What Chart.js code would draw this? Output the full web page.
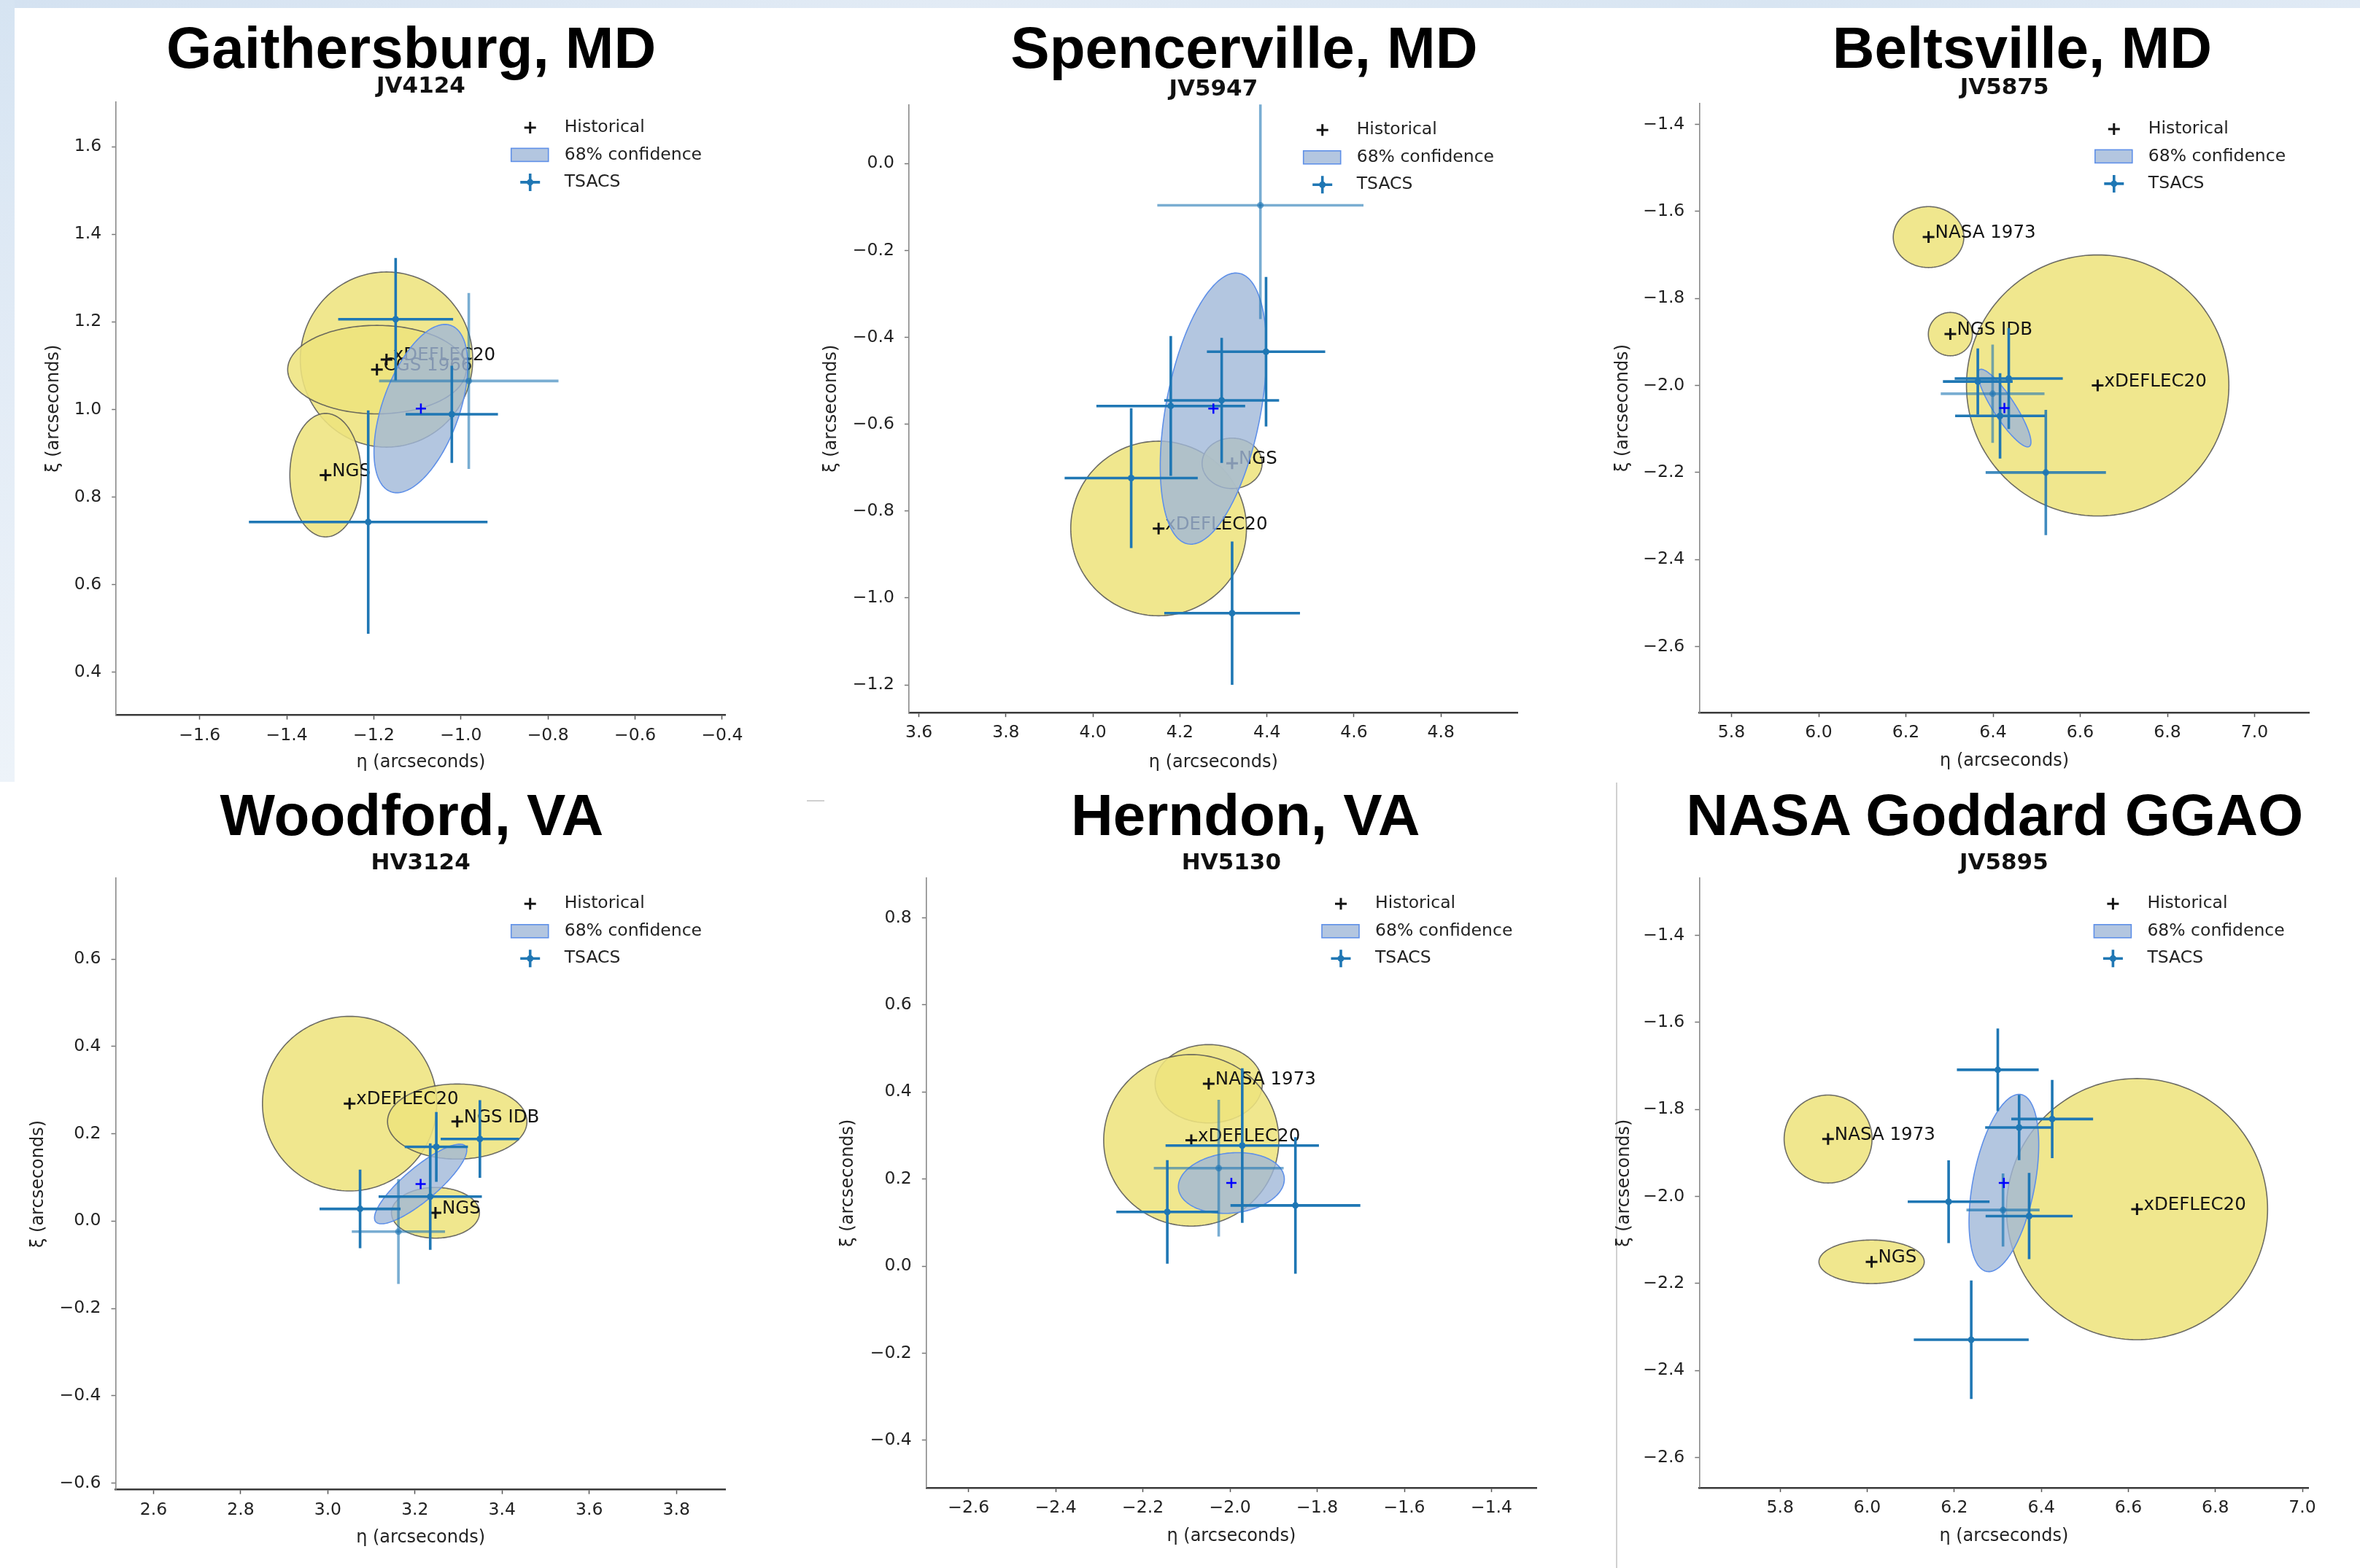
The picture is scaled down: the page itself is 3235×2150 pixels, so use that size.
<!DOCTYPE html>
<html>
<head>
<meta charset="utf-8">
<script src="https://cdn.jsdelivr.net/npm/chart.js@4.4.1/dist/chart.umd.min.js"></script>
<style>
html,body{margin:0;padding:0;background:#ffffff;}
body{width:3235px;height:2150px;position:relative;overflow:hidden;}
canvas{position:absolute;}
.ttl{position:absolute;transform:translateX(-50%);font-family:'Liberation Sans',Arial,sans-serif;font-weight:bold;font-size:80px;line-height:80px;white-space:nowrap;color:#000;z-index:5;}
.deco{position:absolute;}
</style>
</head>
<body>
<div class="deco" style="left:0;top:0;width:3235px;height:11px;background:linear-gradient(90deg,#d4e2f1,#e2ebf5 40%,#d8e5f2 75%,#e0eaf5);"></div>
<div class="deco" style="left:0;top:0;width:20px;height:1072px;background:linear-gradient(180deg,#d6e4f2,#e3ecf6 50%,#edf3f9);"></div>
<div class="deco" style="left:2215px;top:1073px;width:2px;height:1077px;background:#d0d0d0;"></div>
<div class="deco" style="left:1106px;top:1097px;width:24px;height:2px;background:#d0d0d0;"></div>
<script>
// ---------------- DATA ----------------
const HALF_SPAN = 0.7; // arcseconds shown each side of the TSACS mean

// Panel 1 - Gaithersburg, MD
const p1Title = 'Gaithersburg, MD';
const p1Station = 'JV4124';
const p1HistNames = ['xDEFLEC20', 'CGS 1966', 'NGS'];
const p1HistEta = [-1.171, -1.193, -1.311];
const p1HistXi = [1.114, 1.091, 0.850];
const p1HistSigEta = [0.198, 0.205, 0.082];
const p1HistSigXi = [0.200, 0.101, 0.141];
const p1TsacsEta = [-1.150, -0.982, -1.021, -1.213];
const p1TsacsXi = [1.206, 1.065, 0.989, 0.743];
const p1TsacsEtaErr = [0.132, 0.206, 0.106, 0.274];
const p1TsacsXiErr = [0.140, 0.201, 0.111, 0.255];
const p1TsacsWeight = [1, 0.6, 1, 1];
const p1Mean = [-1.092, 1.002];
const p1Conf = [0.202, 0.088, 70];
const p1EtaTicks = [-1.6, -1.4, -1.2, -1.0, -0.8, -0.6, -0.4];
const p1XiTicks = [0.4, 0.6, 0.8, 1.0, 1.2, 1.4, 1.6];

// Panel 2 - Spencerville, MD
const p2Title = 'Spencerville, MD';
const p2Station = 'JV5947';
const p2HistNames = ['xDEFLEC20', 'NGS'];
const p2HistEta = [4.151, 4.320];
const p2HistXi = [-0.840, -0.690];
const p2HistSigEta = [0.202, 0.069];
const p2HistSigXi = [0.201, 0.058];
const p2TsacsEta = [4.385, 4.398, 4.296, 4.179, 4.088, 4.320];
const p2TsacsXi = [-0.096, -0.433, -0.545, -0.558, -0.724, -1.035];
const p2TsacsEtaErr = [0.237, 0.136, 0.132, 0.171, 0.153, 0.156];
const p2TsacsXiErr = [0.262, 0.172, 0.144, 0.161, 0.161, 0.165];
const p2TsacsWeight = [0.6, 1, 1, 1, 1, 1];
const p2Mean = [4.277, -0.564];
const p2Conf = [0.317, 0.109, 79.3];
const p2EtaTicks = [3.6, 3.8, 4.0, 4.2, 4.4, 4.6, 4.8];
const p2XiTicks = [-1.2, -1.0, -0.8, -0.6, -0.4, -0.2, 0.0];

// Panel 3 - Beltsville, MD
const p3Title = 'Beltsville, MD';
const p3Station = 'JV5875';
const p3HistNames = ['NASA 1973', 'NGS IDB', 'xDEFLEC20'];
const p3HistEta = [6.252, 6.302, 6.640];
const p3HistXi = [-1.659, -1.882, -2.000];
const p3HistSigEta = [0.081, 0.0505, 0.301];
const p3HistSigXi = [0.070, 0.0498, 0.300];
const p3TsacsEta = [6.365, 6.436, 6.399, 6.416, 6.521];
const p3TsacsXi = [-1.991, -1.984, -2.019, -2.070, -2.200];
const p3TsacsEtaErr = [0.080, 0.124, 0.119, 0.103, 0.138];
const p3TsacsXiErr = [0.076, 0.116, 0.113, 0.098, 0.144];
const p3TsacsWeight = [1, 1, 0.6, 1, 0.85];
const p3Mean = [6.426, -2.052];
const p3Conf = [0.105, 0.025, -57];
const p3EtaTicks = [5.8, 6.0, 6.2, 6.4, 6.6, 6.8, 7.0];
const p3XiTicks = [-2.6, -2.4, -2.2, -2.0, -1.8, -1.6, -1.4];

// Panel 4 - Woodford, VA
const p4Title = 'Woodford, VA';
const p4Station = 'HV3124';
const p4HistNames = ['xDEFLEC20', 'NGS IDB', 'NGS'];
const p4HistEta = [3.050, 3.297, 3.247];
const p4HistXi = [0.269, 0.228, 0.019];
const p4HistSigEta = [0.200, 0.160, 0.101];
const p4HistSigXi = [0.200, 0.086, 0.058];
const p4TsacsEta = [3.074, 3.162, 3.235, 3.249, 3.349];
const p4TsacsXi = [0.028, -0.024, 0.056, 0.170, 0.188];
const p4TsacsEtaErr = [0.093, 0.107, 0.1185, 0.0725, 0.090];
const p4TsacsXiErr = [0.090, 0.120, 0.122, 0.080, 0.089];
const p4TsacsWeight = [1, 0.6, 1, 1, 1];
const p4Mean = [3.213, 0.085];
const p4Conf = [0.1345, 0.038, 40];
const p4EtaTicks = [2.6, 2.8, 3.0, 3.2, 3.4, 3.6, 3.8];
const p4XiTicks = [-0.6, -0.4, -0.2, 0.0, 0.2, 0.4, 0.6];

// Panel 5 - Herndon, VA
const p5Title = 'Herndon, VA';
const p5Station = 'HV5130';
const p5HistNames = ['NASA 1973', 'xDEFLEC20'];
const p5HistEta = [-2.049, -2.089];
const p5HistXi = [0.419, 0.289];
const p5HistSigEta = [0.123, 0.201];
const p5HistSigXi = [0.090, 0.197];
const p5TsacsEta = [-2.144, -2.026, -1.972, -1.850];
const p5TsacsXi = [0.1245, 0.225, 0.277, 0.1395];
const p5TsacsEtaErr = [0.117, 0.149, 0.176, 0.149];
const p5TsacsXiErr = [0.119, 0.157, 0.1775, 0.157];
const p5TsacsWeight = [1, 0.6, 1, 1];
const p5Mean = [-1.997, 0.191];
const p5Conf = [0.122, 0.069, 6];
const p5EtaTicks = [-2.6, -2.4, -2.2, -2.0, -1.8, -1.6, -1.4];
const p5XiTicks = [-0.4, -0.2, 0.0, 0.2, 0.4, 0.6, 0.8];

// Panel 6 - NASA Goddard GGAO
const p6Title = 'NASA Goddard GGAO';
const p6Station = 'JV5895';
const p6HistNames = ['NASA 1973', 'NGS', 'xDEFLEC20'];
const p6HistEta = [5.910, 6.010, 6.620];
const p6HistXi = [-1.868, -2.150, -2.029];
const p6HistSigEta = [0.101, 0.121, 0.300];
const p6HistSigXi = [0.101, 0.050, 0.300];
const p6TsacsEta = [6.300, 6.349, 6.425, 6.187, 6.312, 6.372, 6.239];
const p6TsacsXi = [-1.709, -1.8415, -1.822, -2.012, -2.031, -2.045, -2.329];
const p6TsacsEtaErr = [0.094, 0.078, 0.094, 0.094, 0.084, 0.100, 0.132];
const p6TsacsXiErr = [0.095, 0.075, 0.090, 0.095, 0.084, 0.099, 0.136];
const p6TsacsWeight = [1, 1, 1, 1, 0.7, 1, 1];
const p6Mean = [6.314, -1.969];
const p6Conf = [0.207, 0.071, 79];
const p6EtaTicks = [5.8, 6.0, 6.2, 6.4, 6.6, 6.8, 7.0];
const p6XiTicks = [-2.6, -2.4, -2.2, -2.0, -1.8, -1.6, -1.4];

// ---------------- LAYOUT (page pixels) ----------------
const BOXES = [
  {x0: 0,    y0: 0,    w: 1100, h: 1070, L: 159.2,  T: 139.9,  R: 994.7,  B: 980.6,  yTitleX: 73.7,   xTitleY: 1045.4, titleX: 563.7,  titleBase: 94},
  {x0: 1100, y0: 0,    w: 1060, h: 1070, L: 1245.9, T: 143.3,  R: 2080.7, B: 977.2,  yTitleX: 1140,   xTitleY: 1045.4, titleX: 1705.4, titleBase: 94},
  {x0: 2160, y0: 0,    w: 1075, h: 1070, L: 2329.3, T: 141.9,  R: 3165.8, B: 977.2,  yTitleX: 2225,   xTitleY: 1044,   titleX: 2771.9, titleBase: 94},
  {x0: 0,    y0: 1070, w: 1100, h: 1080, L: 158.5,  T: 1204.3, R: 994.7,  B: 2042.6, yTitleX: 52.6,   xTitleY: 2108.7, titleX: 564.4,  titleBase: 1146},
  {x0: 1100, y0: 1070, w: 1060, h: 1080, L: 1269.8, T: 1204.3, R: 2106,   B: 2039.9, yTitleX: 1163,   xTitleY: 2106.6, titleX: 1707.2, titleBase: 1146},
  {x0: 2160, y0: 1070, w: 1075, h: 1080, L: 2329.3, T: 1204.3, R: 3164.4, B: 2039.9, yTitleX: 2226.5, xTitleY: 2106.6, titleX: 2734.2, titleBase: 1146}
];

const PANELS = [
  {title: p1Title, station: p1Station, names: p1HistNames, hEta: p1HistEta, hXi: p1HistXi, hSEta: p1HistSigEta, hSXi: p1HistSigXi,
   tEta: p1TsacsEta, tXi: p1TsacsXi, tEtaErr: p1TsacsEtaErr, tXiErr: p1TsacsXiErr, tW: p1TsacsWeight, mean: p1Mean, conf: p1Conf, etaTicks: p1EtaTicks, xiTicks: p1XiTicks},
  {title: p2Title, station: p2Station, names: p2HistNames, hEta: p2HistEta, hXi: p2HistXi, hSEta: p2HistSigEta, hSXi: p2HistSigXi,
   tEta: p2TsacsEta, tXi: p2TsacsXi, tEtaErr: p2TsacsEtaErr, tXiErr: p2TsacsXiErr, tW: p2TsacsWeight, mean: p2Mean, conf: p2Conf, etaTicks: p2EtaTicks, xiTicks: p2XiTicks},
  {title: p3Title, station: p3Station, names: p3HistNames, hEta: p3HistEta, hXi: p3HistXi, hSEta: p3HistSigEta, hSXi: p3HistSigXi,
   tEta: p3TsacsEta, tXi: p3TsacsXi, tEtaErr: p3TsacsEtaErr, tXiErr: p3TsacsXiErr, tW: p3TsacsWeight, mean: p3Mean, conf: p3Conf, etaTicks: p3EtaTicks, xiTicks: p3XiTicks},
  {title: p4Title, station: p4Station, names: p4HistNames, hEta: p4HistEta, hXi: p4HistXi, hSEta: p4HistSigEta, hSXi: p4HistSigXi,
   tEta: p4TsacsEta, tXi: p4TsacsXi, tEtaErr: p4TsacsEtaErr, tXiErr: p4TsacsXiErr, tW: p4TsacsWeight, mean: p4Mean, conf: p4Conf, etaTicks: p4EtaTicks, xiTicks: p4XiTicks},
  {title: p5Title, station: p5Station, names: p5HistNames, hEta: p5HistEta, hXi: p5HistXi, hSEta: p5HistSigEta, hSXi: p5HistSigXi,
   tEta: p5TsacsEta, tXi: p5TsacsXi, tEtaErr: p5TsacsEtaErr, tXiErr: p5TsacsXiErr, tW: p5TsacsWeight, mean: p5Mean, conf: p5Conf, etaTicks: p5EtaTicks, xiTicks: p5XiTicks},
  {title: p6Title, station: p6Station, names: p6HistNames, hEta: p6HistEta, hXi: p6HistXi, hSEta: p6HistSigEta, hSXi: p6HistSigXi,
   tEta: p6TsacsEta, tXi: p6TsacsXi, tEtaErr: p6TsacsEtaErr, tXiErr: p6TsacsXiErr, tW: p6TsacsWeight, mean: p6Mean, conf: p6Conf, etaTicks: p6EtaTicks, xiTicks: p6XiTicks}
];

// ---------------- STYLE ----------------
const FONT = "'DejaVu Sans', 'Liberation Sans', sans-serif";
const TXT = '#232323';
const TSACS_RGB = '31,119,180';
const HIST_FILL = 'rgba(238,228,126,0.88)';
const HIST_EDGE = 'rgba(85,85,85,0.85)';
const CONF_FILL = 'rgba(160,184,216,0.8)';
const CONF_EDGE = '#5f90e8';
const SUB_SIZE = 31, SUB_PAD = 5;

function fmtTick(v) {
  const r = Math.round(v * 10) / 10;
  return (r < 0 ? '\u2212' : '') + Math.abs(r).toFixed(1);
}

function ellipsePath(chart, cx, cy, a, b, deg) {
  const xs = chart.scales.x, ys = chart.scales.y, ctx = chart.ctx;
  const th = deg * Math.PI / 180, c = Math.cos(th), s = Math.sin(th);
  const N = 200;
  ctx.beginPath();
  for (let k = 0; k <= N; k++) {
    const t = 2 * Math.PI * k / N;
    const u = a * Math.cos(t), v = b * Math.sin(t);
    const px = xs.getPixelForValue(cx + u * c - v * s);
    const py = ys.getPixelForValue(cy + u * s + v * c);
    if (k === 0) ctx.moveTo(px, py); else ctx.lineTo(px, py);
  }
  ctx.closePath();
}

function clipToArea(chart) {
  const a = chart.chartArea, ctx = chart.ctx;
  ctx.beginPath();
  ctx.rect(a.left, a.top, a.right - a.left, a.bottom - a.top);
  ctx.clip();
}

function makeOverlay(P) {
  return {
    id: 'overlay',
    beforeDatasetsDraw(chart) {
      const ctx = chart.ctx;
      ctx.save();
      clipToArea(chart);
      for (let i = 0; i < P.hEta.length; i++) {
        ellipsePath(chart, P.hEta[i], P.hXi[i], P.hSEta[i], P.hSXi[i], 0);
        ctx.fillStyle = HIST_FILL;
        ctx.fill();
        ctx.lineWidth = 1.6;
        ctx.strokeStyle = HIST_EDGE;
        ctx.stroke();
      }
      ctx.restore();
    },
    afterDatasetDraw(chart, args) {
      if (args.index !== 0) return;
      const ctx = chart.ctx, xs = chart.scales.x, ys = chart.scales.y;
      ctx.save();
      clipToArea(chart);
      ctx.font = '24.5px ' + FONT;
      ctx.fillStyle = '#141414';
      ctx.textAlign = 'left';
      ctx.textBaseline = 'alphabetic';
      for (let i = 0; i < P.names.length; i++) {
        ctx.fillText(P.names[i], xs.getPixelForValue(P.hEta[i]) + 9, ys.getPixelForValue(P.hXi[i]) + 1);
      }
      // 68% confidence ellipse of the TSACS solution
      ellipsePath(chart, P.mean[0], P.mean[1], P.conf[0], P.conf[1], P.conf[2]);
      ctx.fillStyle = CONF_FILL;
      ctx.fill();
      ctx.lineWidth = 1.6;
      ctx.strokeStyle = CONF_EDGE;
      ctx.stroke();
      ctx.restore();
    },
    beforeDatasetDraw(chart, args) {
      if (args.index !== 1) return;
      const ctx = chart.ctx, xs = chart.scales.x, ys = chart.scales.y;
      ctx.save();
      clipToArea(chart);
      ctx.lineWidth = 3.6;
      ctx.lineCap = 'butt';
      for (let i = 0; i < P.tEta.length; i++) {
        ctx.strokeStyle = 'rgba(' + TSACS_RGB + ',' + P.tW[i] + ')';
        const px = xs.getPixelForValue(P.tEta[i]), py = ys.getPixelForValue(P.tXi[i]);
        ctx.beginPath();
        ctx.moveTo(xs.getPixelForValue(P.tEta[i] - P.tEtaErr[i]), py);
        ctx.lineTo(xs.getPixelForValue(P.tEta[i] + P.tEtaErr[i]), py);
        ctx.stroke();
        ctx.beginPath();
        ctx.moveTo(px, ys.getPixelForValue(P.tXi[i] - P.tXiErr[i]));
        ctx.lineTo(px, ys.getPixelForValue(P.tXi[i] + P.tXiErr[i]));
        ctx.stroke();
      }
      ctx.restore();
    },
    afterDraw(chart) {
      const ctx = chart.ctx, a = chart.chartArea;
      const mx = a.right - 268, tx = a.right - 221;
      const r1 = a.top + 35, r2 = a.top + 72.5, r3 = a.top + 110;
      ctx.save();
      // Historical marker
      ctx.strokeStyle = '#141414';
      ctx.lineWidth = 3;
      ctx.beginPath();
      ctx.moveTo(mx - 8, r1); ctx.lineTo(mx + 8, r1);
      ctx.moveTo(mx, r1 - 8); ctx.lineTo(mx, r1 + 8);
      ctx.stroke();
      // 68% confidence patch
      ctx.fillStyle = CONF_FILL;
      ctx.fillRect(a.right - 294, r2 - 9, 51, 18);
      ctx.strokeStyle = CONF_EDGE;
      ctx.lineWidth = 1.6;
      ctx.strokeRect(a.right - 294, r2 - 9, 51, 18);
      // TSACS errorbar marker
      ctx.strokeStyle = 'rgb(' + TSACS_RGB + ')';
      ctx.lineWidth = 3.6;
      ctx.beginPath();
      ctx.moveTo(mx - 13.5, r3); ctx.lineTo(mx + 13.5, r3);
      ctx.moveTo(mx, r3 - 12); ctx.lineTo(mx, r3 + 12);
      ctx.stroke();
      ctx.fillStyle = 'rgb(' + TSACS_RGB + ')';
      ctx.beginPath(); ctx.arc(mx, r3, 4.5, 0, 2 * Math.PI); ctx.fill();
      // texts
      ctx.font = '23.5px ' + FONT;
      ctx.fillStyle = TXT;
      ctx.textAlign = 'left';
      ctx.textBaseline = 'middle';
      ctx.fillText('Historical', tx, r1);
      ctx.fillText('68% confidence', tx, r2);
      ctx.fillText('TSACS', tx, r3);
      ctx.restore();
    }
  };
}

function buildPanel(P, box) {
  // big slide title
  const t = document.createElement('div');
  t.className = 'ttl';
  t.textContent = P.title;
  t.style.left = box.titleX + 'px';
  t.style.top = (box.titleBase - 67.7) + 'px';
  document.body.appendChild(t);

  const cv = document.createElement('canvas');
  cv.width = box.w; cv.height = box.h;
  cv.style.left = box.x0 + 'px'; cv.style.top = box.y0 + 'px';
  cv.style.width = box.w + 'px'; cv.style.height = box.h + 'px';
  document.body.appendChild(cv);

  const padLeft = box.yTitleX - 14.4 - box.x0;
  const yAxisW = box.L - box.x0 - padLeft;
  const padBottom = box.y0 + box.h - box.xTitleY - 14.4;
  const xAxisH = box.xTitleY + 14.4 - box.B;
  const padTop = box.T - (SUB_SIZE + SUB_PAD) - box.y0;
  const padRight = box.x0 + box.w - box.R;

  const histPts = P.hEta.map((e, i) => ({x: e, y: P.hXi[i]}));
  const tsPts = P.tEta.map((e, i) => ({x: e, y: P.tXi[i]}));

  const tickFont = {family: FONT, size: 23.5};
  const titleFont = {family: FONT, size: 24};

  new Chart(cv, {
    type: 'scatter',
    data: {
      datasets: [
        {label: 'Historical', data: histPts, order: 3, pointStyle: 'cross', pointRadius: 8,
         pointBorderWidth: 3, pointBorderColor: '#141414', pointBackgroundColor: '#141414', borderColor: '#141414'},
        {label: 'TSACS', data: tsPts, order: 2, pointStyle: 'circle', pointRadius: 4.5, pointBorderWidth: 0,
         pointBackgroundColor: (c) => 'rgba(' + TSACS_RGB + ',' + (P.tW[c.dataIndex] ?? 1) + ')'},
        {label: 'TSACS mean', data: [{x: P.mean[0], y: P.mean[1]}], order: 1, pointStyle: 'cross', pointRadius: 7,
         pointBorderWidth: 2.5, pointBorderColor: '#0000ff', borderColor: '#0000ff'}
      ]
    },
    options: {
      responsive: false,
      animation: false,
      devicePixelRatio: 1,
      events: [],
      layout: {padding: {left: padLeft, right: padRight, top: padTop, bottom: padBottom}},
      plugins: {
        legend: {display: false},
        tooltip: {enabled: false},
        title: {display: true, text: P.station, fullSize: false, position: 'top', align: 'center', color: '#111',
                font: {family: FONT, size: SUB_SIZE, weight: 'bold', lineHeight: 1}, padding: {top: 0, bottom: SUB_PAD}}
      },
      scales: {
        x: {
          type: 'linear', position: 'bottom',
          min: P.mean[0] - HALF_SPAN, max: P.mean[0] + HALF_SPAN,
          afterBuildTicks: (s) => { s.ticks = P.etaTicks.map(v => ({value: v})); },
          afterFit: (s) => { s.height = xAxisH; },
          ticks: {callback: (v) => fmtTick(v), font: tickFont, color: TXT, padding: 8, maxRotation: 0, autoSkip: false},
          grid: {display: true, drawOnChartArea: false, drawTicks: true, tickLength: 6, tickWidth: 1.5, tickColor: '#555', color: '#555'},
          border: {display: true, color: '#3a3a3a', width: 2.5},
          title: {display: true, text: 'η (arcseconds)', font: titleFont, color: TXT, padding: 0}
        },
        y: {
          type: 'linear', position: 'left',
          min: P.mean[1] - HALF_SPAN, max: P.mean[1] + HALF_SPAN,
          afterBuildTicks: (s) => { s.ticks = P.xiTicks.map(v => ({value: v})); },
          afterFit: (s) => { s.width = yAxisW; },
          ticks: {callback: (v) => fmtTick(v), font: tickFont, color: TXT, padding: 14, autoSkip: false},
          grid: {display: true, drawOnChartArea: false, drawTicks: true, tickLength: 6, tickWidth: 1.5, tickColor: '#777', color: '#777'},
          border: {display: true, color: '#8a8a8a', width: 1.6},
          title: {display: true, text: 'ξ (arcseconds)', font: titleFont, color: TXT, padding: 0}
        }
      }
    },
    plugins: [makeOverlay(P)]
  });
}

PANELS.forEach((P, i) => buildPanel(P, BOXES[i]));
</script>
</body>
</html>
